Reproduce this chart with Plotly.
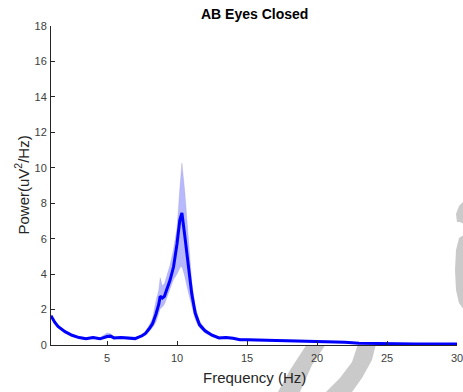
import plotly.graph_objects as go

freq = [1, 1.25, 1.5, 2, 2.5, 3, 3.5, 4, 4.5, 5, 5.25, 5.5, 6, 6.5, 7, 7.5, 7.75, 8,
        8.25, 8.5, 8.7, 8.8, 8.95, 9.1, 9.25, 9.5, 9.75, 10, 10.2, 10.35, 10.55, 10.8,
        11.05, 11.3, 11.6, 12, 12.5, 13, 13.5, 14, 14.5, 15, 16, 17, 18, 19, 20, 21,
        22, 23, 24, 25, 26, 27, 28, 29, 30]
power_mean = [1.65, 1.3, 1.05, 0.75, 0.55, 0.42, 0.36, 0.42, 0.35, 0.48, 0.5, 0.4, 0.42,
              0.4, 0.36, 0.52, 0.65, 0.9, 1.2, 1.75, 2.3, 2.75, 2.65, 2.75, 3.1, 3.65,
              4.4, 5.7, 7.05, 7.45, 6.2, 4.4, 2.9, 1.8, 1.15, 0.8, 0.55, 0.4, 0.42, 0.38,
              0.3, 0.3, 0.28, 0.26, 0.24, 0.23, 0.22, 0.2, 0.15, 0.1, 0.08, 0.07, 0.06,
              0.06, 0.05, 0.05, 0.05]
power_upper = [1.72, 1.37, 1.11, 0.81, 0.61, 0.48, 0.42, 0.48, 0.41, 0.68, 0.64, 0.46,
               0.48, 0.46, 0.42, 0.6, 0.78, 1.1, 1.5, 2.5, 3.1, 3.8, 3.35, 3.45, 3.85,
               4.5, 5.4, 6.6, 8.8, 10.26, 8.7, 6.1, 3.6, 2.2, 1.35, 0.92, 0.64, 0.47,
               0.48, 0.43, 0.35, 0.35, 0.32, 0.3, 0.28, 0.27, 0.26, 0.24, 0.19, 0.13,
               0.11, 0.1, 0.09, 0.09, 0.08, 0.08, 0.08]
power_lower = [1.58, 1.24, 0.99, 0.69, 0.5, 0.37, 0.31, 0.36, 0.3, 0.4, 0.42, 0.35, 0.37,
               0.35, 0.31, 0.45, 0.55, 0.75, 0.98, 1.3, 1.8, 2.05, 2.15, 2.3, 2.6, 3.2,
               3.7, 4.0, 4.35, 4.45, 3.9, 3.0, 2.2, 1.45, 0.98, 0.68, 0.47, 0.34, 0.37,
               0.33, 0.26, 0.26, 0.24, 0.22, 0.2, 0.19, 0.18, 0.16, 0.11, 0.07, 0.05,
               0.04, 0.03, 0.03, 0.02, 0.02, 0.02]

x_ticks = [5, 10, 15, 20, 25, 30]
y_ticks = [0, 2, 4, 6, 8, 10, 12, 14, 16, 18]

title_text = "AB Eyes Closed"
x_label = "Frequency (Hz)"
y_label = "Power(uV<sup>2</sup>/Hz)"

W, H = 463, 392
ml, mr, mt, mb = 51, 6, 26, 47
PW, PH = W - ml - mr, H - mt - mb
FONT = "Liberation Sans, Arial, sans-serif"


def px(x, y):
    """pixel position -> paper coordinates (for decorative watermark only)"""
    return (x - ml) / PW, (H - mb - y) / PH


def path(points):
    pts = [px(x, y) for x, y in points]
    return "M " + " L ".join(f"{a:.4f},{b:.4f}" for a, b in pts) + " Z"


WM = "#cacaca"
shapes = [
    # background watermark (only visible outside the axes area)
    dict(type="path", xref="paper", yref="paper", layer="below", fillcolor=WM, line_width=0,
         path=path([(307, 344), (326, 344), (312, 365), (300, 392), (278, 392), (290, 370)])),
    dict(type="path", xref="paper", yref="paper", layer="below", fillcolor=WM, line_width=0,
         path=path([(358, 344), (376, 344), (372, 360), (362, 378), (352, 392), (326, 392),
                    (340, 378), (352, 362)])),
    # white axes background covering the watermark
    dict(type="rect", xref="paper", yref="paper", layer="below", fillcolor="white",
         line_width=0, x0=0, x1=1, y0=0, y1=1),
    # watermark part along the right edge
    dict(type="path", xref="paper", yref="paper", layer="below", fillcolor=WM, line_width=0,
         path=path([(464, 201), (459, 206), (456, 214), (457, 222), (460, 222), (464, 224)])),
    dict(type="path", xref="paper", yref="paper", layer="below", fillcolor=WM, line_width=0,
         path=path([(464, 235), (459, 238), (456, 250), (455, 270), (456, 290), (459, 303),
                    (464, 310)])),
]

fig = go.Figure()
fig.add_trace(go.Scatter(x=freq + freq[::-1], y=power_upper + power_lower[::-1],
                         fill="toself", fillcolor="rgba(0,0,255,0.28)",
                         line=dict(width=0.6, color="rgba(150,150,200,0.5)"),
                         hoverinfo="skip", showlegend=False))
fig.add_trace(go.Scatter(x=freq, y=power_mean, mode="lines",
                         line=dict(color="#0000FF", width=3), showlegend=False))

axis_common = dict(showline=True, linecolor="#262626", linewidth=1, ticks="inside",
                   ticklen=4, tickcolor="#262626", showgrid=False, zeroline=False,
                   ticklabeloverflow="allow", automargin=False,
                   tickfont=dict(family=FONT, size=11, color="#404040"))
fig.update_xaxes(range=[1, 30], tickvals=x_ticks, ticklabelstandoff=3, **axis_common)
fig.update_yaxes(range=[0, 18], tickvals=y_ticks, ticklabelstandoff=1, **axis_common)

fig.update_layout(
    width=W, height=H, margin=dict(l=ml, r=mr, t=mt, b=mb),
    plot_bgcolor="white", paper_bgcolor="white",
    shapes=shapes,
    annotations=[
        dict(text="<b>" + title_text + "</b>", xref="paper", yref="paper", x=0.5,
             y=1 + (mt - 14) / PH, xanchor="center", yanchor="middle",
             showarrow=False, font=dict(family=FONT, size=14, color="black")),
        dict(text=x_label, xref="paper", yref="paper", x=0.5,
             y=-(377 - (H - mb)) / PH, xanchor="center", yanchor="middle",
             showarrow=False, font=dict(family=FONT, size=15, color="#262626")),
        dict(text=y_label, xref="paper", yref="paper", x=-(ml - 22) / PW,
             y=0.5, xanchor="center", yanchor="middle", textangle=-90,
             showarrow=False, font=dict(family=FONT, size=15, color="#262626")),
    ],
)

fig.write_html("out.html")
